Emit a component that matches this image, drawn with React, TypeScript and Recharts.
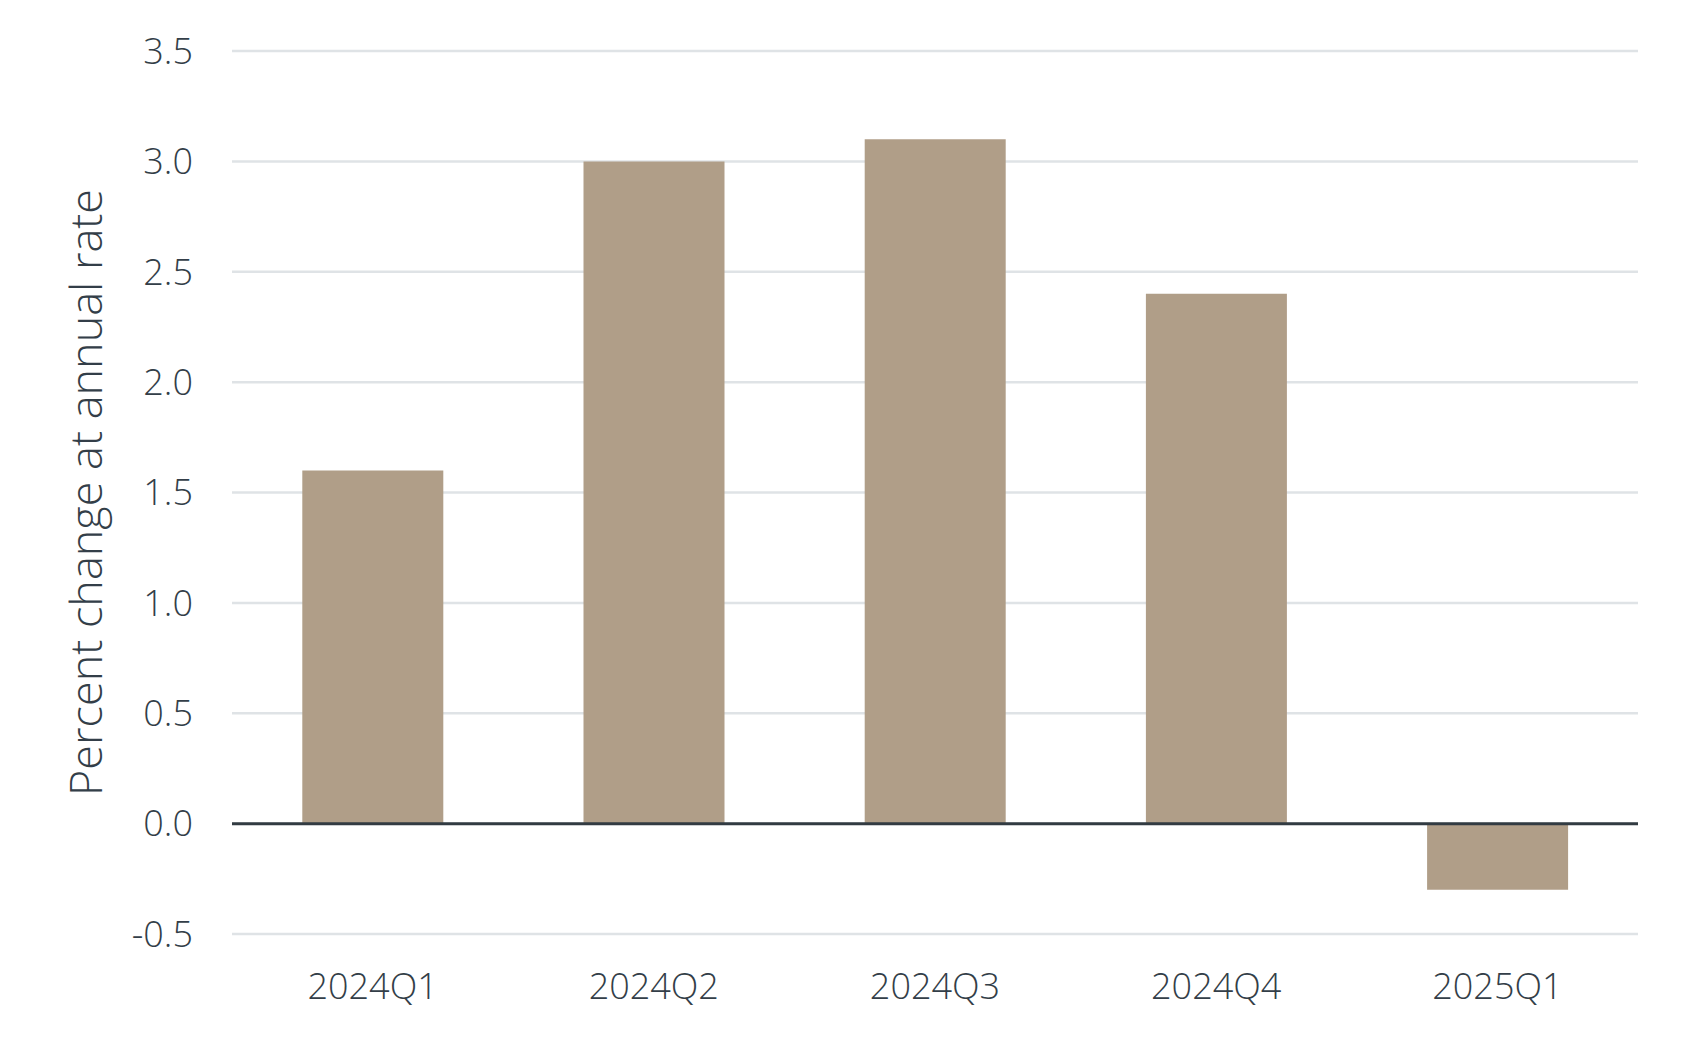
import { BarChart, Bar, XAxis, YAxis, CartesianGrid, ReferenceLine } from 'recharts'

const quarters = ['2024Q1', '2024Q2', '2024Q3', '2024Q4', '2025Q1']
const growth = [1.6, 3.0, 3.1, 2.4, -0.3]
const yTicks = [-0.5, 0, 0.5, 1.0, 1.5, 2.0, 2.5, 3.0, 3.5]

const data = quarters.map((q, i) => ({ quarter: q, value: growth[i] }))

const TEXT = '#333e48'
const FONT = "'Open Sans', sans-serif"

export default function App() {
  return (
    <div style={{ position: 'fixed', left: 0, top: 0, background: '#fff' }}>
      <BarChart
        width={1689}
        height={1039}
        data={data}
        margin={{ top: 51, right: 51, left: 0, bottom: 0 }}
        barCategoryGap="25%"
      >
        <CartesianGrid vertical={false} stroke="#dfe3e6" strokeWidth={2.5} />
        <XAxis
          dataKey="quarter"
          axisLine={false}
          tickLine={false}
          height={105}
          tickMargin={33}
          tick={{ fill: TEXT, fontSize: 36, fontFamily: FONT, fontWeight: 300 }}
        />
        <YAxis
          type="number"
          domain={[-0.5, 3.5]}
          ticks={yTicks}
          interval={0}
          width={232}
          axisLine={false}
          tickLine={false}
          tickSize={0}
          tickMargin={39}
          tickFormatter={(v: number) => v.toFixed(1)}
          tick={{ fill: TEXT, fontSize: 36, fontFamily: FONT, fontWeight: 300 }}
          label={{
            value: 'Percent change at annual rate',
            angle: -90,
            position: 'insideLeft',
            offset: 86,
            style: { textAnchor: 'middle', fill: TEXT, fontSize: 45, fontFamily: FONT, fontWeight: 300 },
          }}
        />
        <Bar dataKey="value" fill="#b09e88" isAnimationActive={false} />
        <ReferenceLine y={0} stroke="#323b42" strokeWidth={3} />
      </BarChart>
    </div>
  )
}
